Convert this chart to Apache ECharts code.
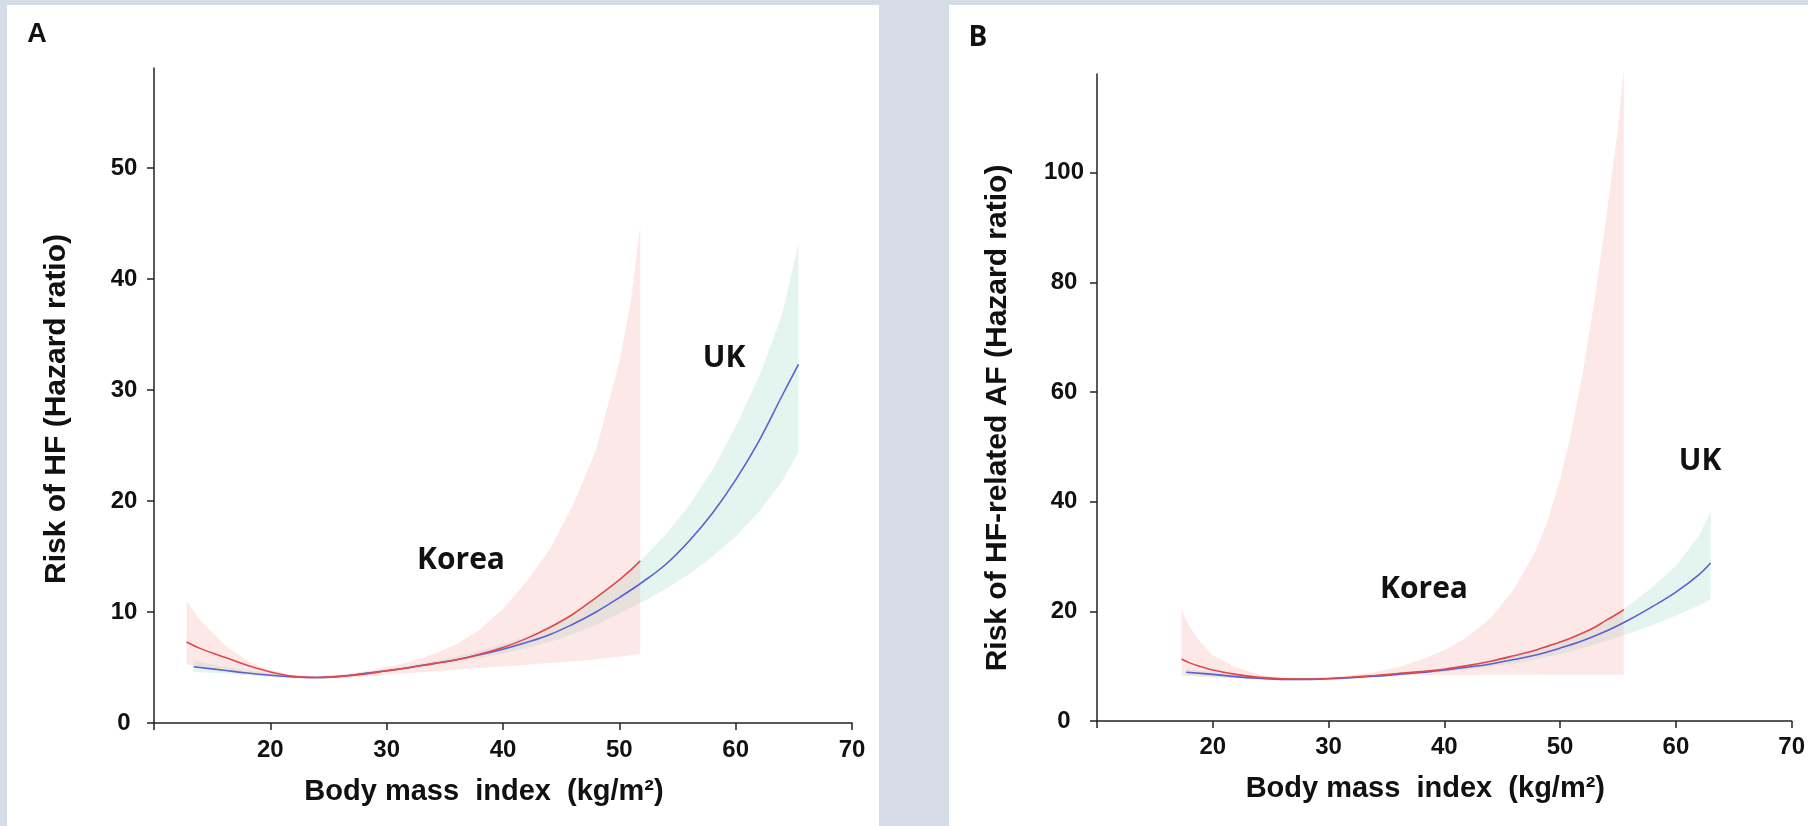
<!DOCTYPE html>
<html>
<head>
<meta charset="utf-8">
<script src="https://cdn.jsdelivr.net/npm/echarts@6/dist/echarts.min.js"></script>
<style>
  html, body { margin: 0; padding: 0; background: #d5dce6; }
  .panel { position: absolute; background: #fff; }
  #chart { position: absolute; left: 0; top: 0; width: 1808px; height: 826px; }
</style>
</head>
<body>
<div class="panel" style="left:7px;top:5px;width:872px;height:821px"></div>
<div class="panel" style="left:949px;top:5px;width:859px;height:821px"></div>
<div id="chart"></div>
<script>
// Panel A: risk of HF
const bmiKoreaA = [12.8, 14, 16, 18, 20, 22, 24, 26, 28, 30, 32, 34, 36, 38, 40, 42, 44, 46, 48, 50, 51, 51.8];
const hrKoreaA  = [7.3, 6.7, 5.95, 5.2, 4.6, 4.2, 4.1, 4.2, 4.4, 4.7, 5.0, 5.35, 5.7, 6.2, 6.8, 7.6, 8.6, 9.8, 11.3, 12.9, 13.8, 14.6];
const loKoreaA  = [5.3, 5.1, 4.8, 4.5, 4.25, 4.05, 4.0, 4.05, 4.15, 4.35, 4.5, 4.65, 4.8, 4.95, 5.1, 5.25, 5.4, 5.55, 5.75, 6.0, 6.1, 6.25];
const hiKoreaA  = [11.0, 9.2, 7.1, 5.6, 4.75, 4.3, 4.2, 4.35, 4.65, 5.05, 5.5, 6.2, 7.1, 8.4, 10.3, 12.7, 15.6, 19.6, 24.6, 32.5, 38.0, 44.8];

const bmiUkA = [13.4, 16, 18, 20, 22, 24, 26, 28, 30, 32, 34, 36, 38, 40, 42, 44, 46, 48, 50, 52, 54, 56, 58, 60, 62, 64, 65.4];
const hrUkA  = [5.07, 4.75, 4.5, 4.3, 4.15, 4.1, 4.2, 4.45, 4.7, 5.0, 5.35, 5.7, 6.15, 6.65, 7.25, 7.95, 8.9, 10.0, 11.3, 12.7, 14.3, 16.4, 18.9, 21.9, 25.4, 29.5, 32.3];
const loUkA  = [4.6, 4.45, 4.3, 4.15, 4.05, 4.0, 4.1, 4.35, 4.6, 4.85, 5.15, 5.45, 5.85, 6.25, 6.75, 7.3, 8.0, 8.85, 9.85, 10.9, 12.1, 13.4, 15.0, 16.8, 19.0, 21.8, 24.4];
const hiUkA  = [5.6, 5.1, 4.75, 4.5, 4.28, 4.22, 4.32, 4.58, 4.85, 5.17, 5.57, 5.98, 6.5, 7.1, 7.8, 8.7, 9.8, 11.2, 12.9, 14.8, 17.0, 19.6, 22.8, 26.7, 31.2, 36.8, 43.2];

// Panel B: risk of HF-related AF
const bmiKoreaB = [17.3, 18, 19, 20, 22, 24, 26, 28, 30, 32, 34, 36, 38, 40, 42, 44, 46, 48, 49, 50, 51, 52, 53, 54, 55, 55.5];
const hrKoreaB  = [11.3, 10.6, 9.9, 9.3, 8.5, 7.95, 7.7, 7.65, 7.75, 8.0, 8.3, 8.65, 9.0, 9.45, 10.1, 10.9, 11.9, 13.0, 13.7, 14.4, 15.2, 16.1, 17.1, 18.4, 19.6, 20.3];
const loKoreaB  = [8.3, 8.2, 8.05, 7.95, 7.75, 7.55, 7.45, 7.5, 7.65, 7.9, 8.15, 8.3, 8.35, 8.4, 8.4, 8.45, 8.45, 8.45, 8.5, 8.5, 8.5, 8.5, 8.5, 8.5, 8.5, 8.5];
const hiKoreaB  = [20.2, 17.2, 14.2, 12.0, 9.8, 8.5, 7.9, 7.85, 8.0, 8.3, 8.9, 9.8, 11.2, 12.9, 15.3, 18.8, 24.0, 31.5, 37.0, 44.0, 53.0, 64.0, 77.0, 92.0, 108.0, 119.0];

const bmiUkB = [17.7, 20, 22, 24, 26, 28, 30, 32, 34, 36, 38, 40, 42, 44, 46, 48, 50, 52, 54, 56, 58, 60, 62, 63];
const hrUkB  = [8.9, 8.5, 8.1, 7.8, 7.6, 7.6, 7.7, 7.9, 8.15, 8.5, 8.85, 9.3, 9.8, 10.4, 11.2, 12.1, 13.3, 14.7, 16.4, 18.5, 20.9, 23.5, 26.7, 28.8];
const loUkB  = [8.4, 8.1, 7.8, 7.55, 7.4, 7.4, 7.5, 7.7, 7.95, 8.25, 8.6, 8.95, 9.4, 9.9, 10.5, 11.3, 12.2, 13.3, 14.6, 16.0, 17.5, 19.2, 21.1, 22.2];
const hiUkB  = [9.5, 8.9, 8.4, 8.05, 7.8, 7.8, 7.9, 8.1, 8.35, 8.75, 9.15, 9.65, 10.25, 10.95, 11.9, 13.0, 14.5, 16.3, 18.5, 21.2, 24.5, 28.3, 33.8, 38.2];

const xTicks = [10, 20, 30, 40, 50, 60, 70];
const xLabels = [20, 30, 40, 50, 60, 70];
const yTicksA = [0, 10, 20, 30, 40, 50];
const yTicksB = [0, 20, 40, 60, 80, 100];

const FONT = '"Liberation Sans", Arial, sans-serif';
const TAG_FONT = '"Open Sans", "Noto Sans", sans-serif';
const RED = '#e2474c';
const BLUE = '#5c5fd4';
const PINK = 'rgba(245, 170, 165, 0.27)';
const GREEN = 'rgba(150, 215, 195, 0.26)';

function pairs(xs, ys) { return xs.map((x, i) => [x, ys[i]]); }

// CI band: one polygon (upper edge, then lower edge back) through the axis scales
function band(xs, lo, hi, idx, color) {
  return {
    type: 'custom', xAxisIndex: idx, yAxisIndex: idx, silent: true, clip: false, z: 1,
    data: xs.map((x, i) => [x, lo[i], hi[i]]),
    encode: { x: 0, y: [1, 2] },
    renderItem: function (params, api) {
      if (params.dataIndex !== 0) return;
      const top = xs.map((x, i) => api.coord([x, hi[i]]));
      const bot = xs.map((x, i) => api.coord([x, lo[i]])).reverse();
      return { type: 'polygon', shape: { points: top.concat(bot) }, style: { fill: color } };
    }
  };
}
function curve(xs, ys, idx, color) {
  return { type: 'line', xAxisIndex: idx, yAxisIndex: idx, data: pairs(xs, ys), smooth: 0.4,
    showSymbol: false, silent: true, lineStyle: { color: color, width: 1.6 }, z: 5 };
}

const axisLine = { show: true, lineStyle: { color: '#222', width: 1.5 } };
function xAxis(idx, nameGap, margin) {
  return {
    type: 'value', gridIndex: idx, min: 10, max: 70, interval: 10,
    axisLine: axisLine, splitLine: { show: false },
    axisTick: { show: true, length: 7, lineStyle: { color: '#222', width: 1.5 }, customValues: xTicks },
    axisLabel: { customValues: xLabels, margin: margin, fontSize: 24, fontWeight: 'bold', color: '#111', fontFamily: FONT },
    name: 'Body mass  index  (kg/m²)', nameLocation: 'middle', nameGap: nameGap,
    nameTextStyle: { fontSize: 29, fontWeight: 'bold', color: '#111', fontFamily: FONT, padding: [0, 38, 0, 0] }
  };
}
function yAxis(idx, max, ticks, name, nameGap, margin, shift) {
  return {
    type: 'value', gridIndex: idx, min: 0, max: max,
    axisLine: axisLine, splitLine: { show: false },
    axisTick: { show: true, length: 7, lineStyle: { color: '#222', width: 1.5 }, customValues: ticks },
    axisLabel: { customValues: ticks, margin: margin, align: 'center', fontSize: 24, fontWeight: 'bold', color: '#111', fontFamily: FONT },
    name: name, nameLocation: 'middle', nameGap: nameGap,
    nameTextStyle: { fontSize: 30, fontWeight: 'bold', color: '#111', fontFamily: FONT, padding: [0, shift, 0, 0] }
  };
}

function tag(text, x, y, size, family) {
  return { type: 'text', x: x, y: y, z: 100, style: { text: text, fill: '#111', fontSize: size, fontWeight: 'bold',
    fontFamily: family, align: 'center', verticalAlign: 'middle' } };
}

const chart = echarts.init(document.getElementById('chart'), null, { renderer: 'canvas' });
chart.setOption({
  animation: false,
  backgroundColor: 'transparent',
  grid: [
    { left: 154, top: 68, width: 698, height: 655 },
    { left: 1097, top: 74, width: 696, height: 647 }
  ],
  xAxis: [xAxis(0, 54, 15), xAxis(1, 53, 14)],
  yAxis: [
    yAxis(0, 59, yTicksA, 'Risk of HF (Hazard ratio)', 82, 30, 27),
    yAxis(1, 118, yTicksB, 'Risk of HF-related AF (Hazard ratio)', 84, 33, 41)
  ],
  series: [
    band(bmiUkA, loUkA, hiUkA, 0, GREEN),
    band(bmiKoreaA, loKoreaA, hiKoreaA, 0, PINK),
    band(bmiUkB, loUkB, hiUkB, 1, GREEN),
    band(bmiKoreaB, loKoreaB, hiKoreaB, 1, PINK),
    curve(bmiUkA, hrUkA, 0, BLUE), curve(bmiKoreaA, hrKoreaA, 0, RED),
    curve(bmiUkB, hrUkB, 1, BLUE), curve(bmiKoreaB, hrKoreaB, 1, RED)
  ],
  graphic: [
    tag('A', 37, 35, 27, FONT),
    tag('B', 978, 38, 28, TAG_FONT),
    tag('Korea', 461, 560, 30, TAG_FONT),
    tag('UK', 724, 358, 30, TAG_FONT),
    tag('Korea', 1424, 589, 30, TAG_FONT),
    tag('UK', 1700, 461, 30, TAG_FONT)
  ]
});
</script>
</body>
</html>
